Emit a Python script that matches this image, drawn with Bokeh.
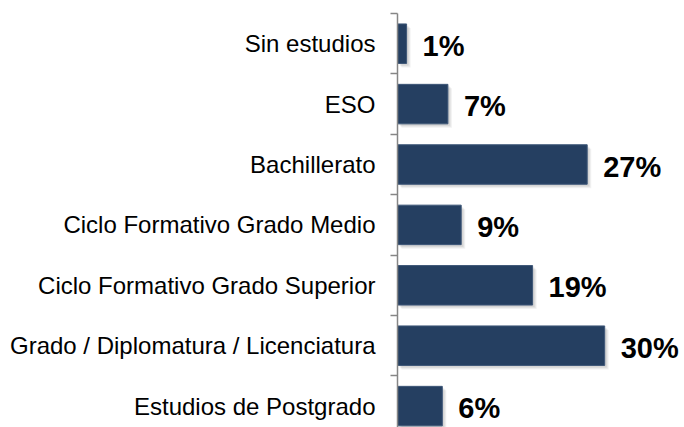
from bokeh.plotting import figure
from bokeh.models import ColumnDataSource, Range1d, FixedTicker
from bokeh.core.properties import value
from bokeh.embed import file_html
from bokeh.resources import INLINE

categories = [
    "Sin estudios",
    "ESO",
    "Bachillerato",
    "Ciclo Formativo Grado Medio",
    "Ciclo Formativo Grado Superior",
    "Grado / Diplomatura / Licenciatura",
    "Estudios de Postgrado",
]
values = [1.3, 7.2, 27.1, 9.1, 19.3, 29.6, 6.4]
pct_labels = ["1%", "7%", "27%", "9%", "19%", "30%", "6%"]

W, H = 684, 427
ML, MR, MT, MB = 397, 0, 13, 0
frame_w = W - ML - MR
frame_h = H - MT - MB
px_per_pct = 7.0
px_per_row = 60.4
x_end = frame_w / px_per_pct
y_top = -0.5
y_bottom = y_top + frame_h / px_per_row

ys = list(range(len(categories)))
source = ColumnDataSource(dict(y=ys, value=values, label=pct_labels, cat=categories))

p = figure(
    width=W, height=H,
    x_range=Range1d(0, x_end), y_range=Range1d(y_bottom, y_top),
    output_backend="svg", toolbar_location=None,
    x_axis_location=None,
    min_border_left=ML, min_border_right=MR, min_border_top=MT, min_border_bottom=MB,
)
p.outline_line_color = None
p.xgrid.visible = False
p.ygrid.visible = False
p.background_fill_color = "white"
p.border_fill_color = "white"

bar_h = 39.5 / px_per_row

# soft shadow
for k, a in [(4, 0.10), (3, 0.12), (2, 0.14)]:
    dx = k / px_per_pct
    dy = k / px_per_row
    shadow = ColumnDataSource(dict(
        y=[y + dy for y in ys],
        left=[dx] * len(values),
        right=[v + dx for v in values],
    ))
    p.hbar(y="y", left="left", right="right", height=bar_h, source=shadow,
           fill_color="#808080", fill_alpha=a, line_color=None)

p.hbar(y="y", left=0, right="value", height=bar_h, source=source,
       fill_color="#253F61", line_color="#3E5778", line_width=1)

p.text(x="value", y="y", text="label", source=source,
       x_offset=16, y_offset=2, text_align="left", text_baseline="middle",
       text_font=value("Liberation Sans"), text_font_size="29px",
       text_font_style="bold", text_color="#000000")

ax = p.yaxis[0]
ax.ticker = FixedTicker(ticks=ys, minor_ticks=[y - 0.5 for y in ys] + [ys[-1] + 0.5])
ax.major_label_overrides = {y: c for y, c in zip(ys, categories)}
ax.major_tick_line_color = None
ax.major_tick_out = 7
ax.major_tick_in = 0
ax.minor_tick_line_color = "#868686"
ax.minor_tick_line_width = 1.5
ax.minor_tick_out = 7
ax.minor_tick_in = 0
ax.axis_line_color = "#868686"
ax.axis_line_width = 1.5
ax.major_label_standoff = 15
ax.major_label_text_font = "Liberation Sans"
ax.major_label_text_font_size = "24px"
ax.major_label_text_color = "#000000"

open("out.html", "w").write(file_html(p, INLINE))
